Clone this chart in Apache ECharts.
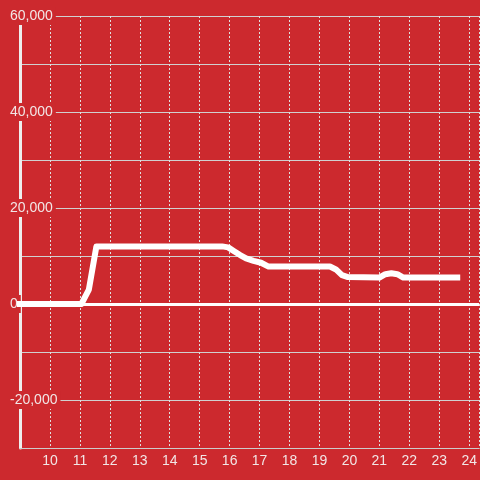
<!DOCTYPE html>
<html>
<head>
<meta charset="utf-8">
<script src="https://cdn.jsdelivr.net/npm/echarts@6/dist/echarts.min.js"></script>
<style>
html,body{margin:0;padding:0;background:#cc292e;}
#c{width:480px;height:480px;}
</style>
</head>
<body>
<div id="c"></div>
<script>
// Hours of day (x) and values (y)
var hours  = [8.9, 11.05, 11.3, 11.55, 15.75, 15.95, 16.15, 16.35, 16.55, 16.8, 17.05, 17.3, 19.35, 19.55, 19.75, 19.95, 21.0, 21.2, 21.4, 21.6, 21.8, 23.7];
var values = [0, 0, 3000, 12000, 12000, 11800, 11000, 10200, 9500, 9000, 8600, 7800, 7800, 7200, 6000, 5600, 5500, 6200, 6400, 6200, 5500, 5500];
var yLabelValues = [60000, 40000, 20000, 0, -20000];

var BG = '#cc292e';
var FONT = 'Liberation Sans, Arial, sans-serif';
var seriesData = hours.map(function (h, i) { return [h, values[i]]; });

var chart = echarts.init(document.getElementById('c'));
chart.setOption({
  backgroundColor: BG,
  animation: false,
  grid: { left: 20, right: 0, top: 16, bottom: 32 },
  xAxis: {
    type: 'value',
    min: 9, max: 24.3333, interval: 1,
    axisLine: { show: true, onZero: false, lineStyle: { color: '#cccccc', width: 1 } },
    axisTick: { show: false },
    axisLabel: {
      showMinLabel: false, showMaxLabel: false,
      color: '#f2e6e6', fontSize: 14, fontFamily: FONT, margin: 6
    },
    splitLine: { show: true, lineStyle: { color: '#e0e0e0', width: 1, type: [2, 2] } }
  },
  yAxis: {
    type: 'value',
    min: -30000, max: 60000, interval: 10000,
    axisLine: { show: true, lineStyle: { color: '#eeeeee', width: 3 } },
    axisTick: { show: false },
    axisLabel: {
      align: 'left', margin: 13,
      formatter: function (v) {
        if (yLabelValues.indexOf(v) < 0) return '';
        return '{a|' + echarts.format.addCommas(v) + '}';
      },
      rich: {
        a: { color: '#f2e6e6', fontSize: 14, fontFamily: FONT, backgroundColor: BG, padding: [2, 3, 2, 3] }
      }
    },
    splitLine: { show: true, lineStyle: { color: '#d0d0d0', width: 1 } }
  },
  series: [{
    type: 'line',
    data: seriesData,
    clip: false,
    showSymbol: false,
    symbol: 'none',
    lineStyle: { color: '#ffffff', width: 6, cap: 'butt', join: 'round' },
    markLine: {
      silent: true, symbol: 'none', label: { show: false },
      lineStyle: { color: '#ffffff', width: 3, type: 'solid' },
      data: [{ yAxis: 0 }]
    }
  }]
});
</script>
</body>
</html>
